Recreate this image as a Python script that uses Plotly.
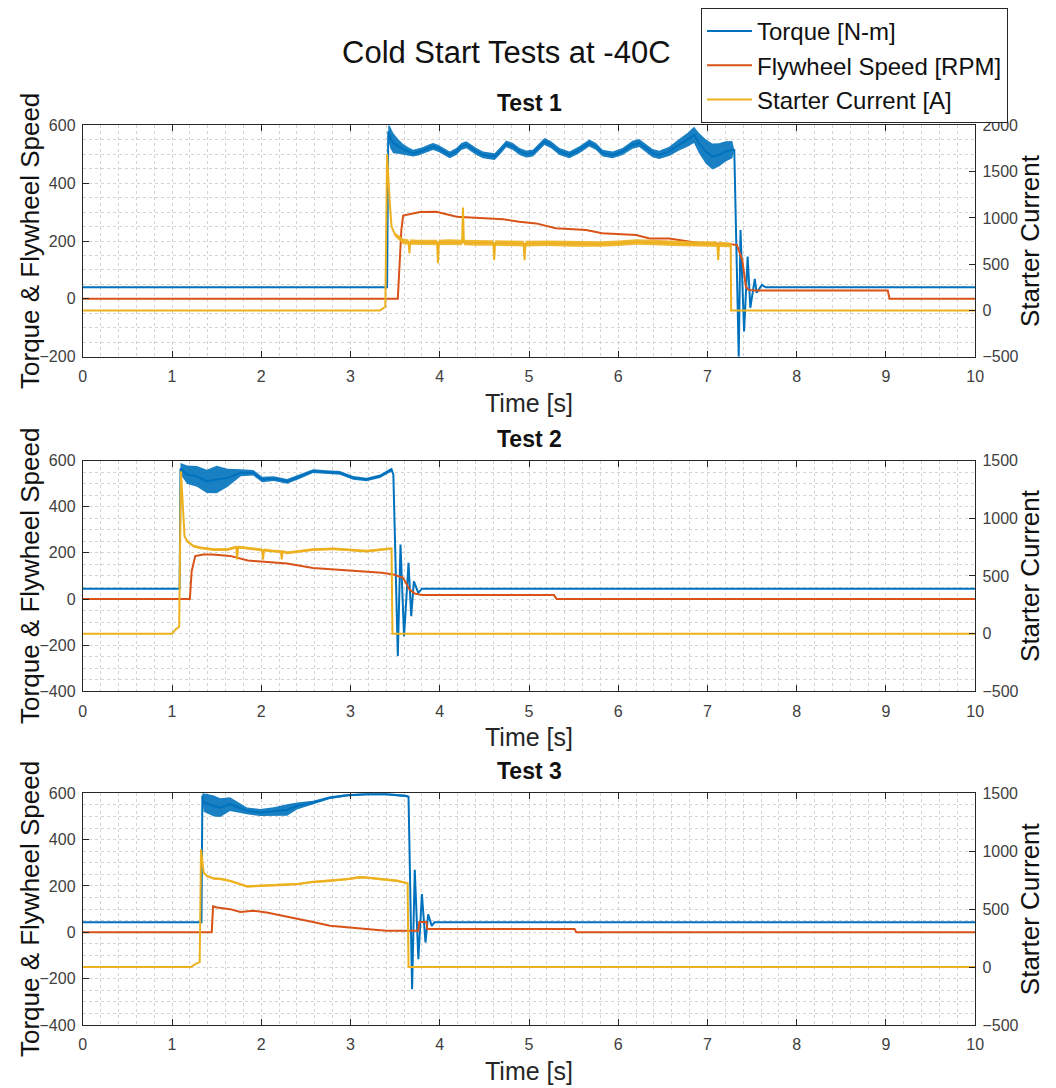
import plotly.graph_objects as go

# ---------------- Test 1 ----------------
t1_torque = [0, 3.41, 3.423, 3.449, 3.479, 3.535, 3.590, 3.646, 3.702, 3.758, 3.814, 3.870,
             3.925, 3.981, 4.037, 4.112, 4.186, 4.242, 4.298, 4.354, 4.410, 4.484, 4.559,
             4.615, 4.670, 4.745, 4.820, 4.894, 4.969, 5.043, 5.117, 5.173, 5.248, 5.341,
             5.453, 5.564, 5.676, 5.751, 5.825, 5.937, 6.048, 6.160, 6.235, 6.309, 6.384,
             6.458, 6.570, 6.682, 6.775, 6.849, 6.905, 6.980, 7.054, 7.129, 7.203, 7.278,
             7.30, 7.35, 7.37, 7.41, 7.45, 7.48, 7.53, 7.55, 7.61, 7.65, 10]
torque1 = [40, 40, 579, 556, 539, 527, 518, 510, 504, 508, 513, 521,
           527, 521, 510, 498, 510, 527, 533, 521, 510, 498, 495,
           492, 510, 536, 527, 510, 501, 504, 527, 544, 533, 510,
           498, 516, 539, 527, 504, 498, 510, 533, 539, 521, 504,
           498, 510, 533, 550, 567, 539, 510, 492, 498, 510, 516,
           515, -200, 238, -113, 146, -31, 69, 21, 48, 40, 40]
torque1_noise = [0, 0, 30, 38, 35, 25, 18, 14, 12, 12, 12, 12,
                 12, 12, 12, 12, 12, 12, 12, 12, 12, 12, 12,
                 12, 12, 12, 12, 12, 12, 12, 12, 12, 12, 12,
                 12, 12, 12, 12, 12, 12, 12, 14, 14, 14, 14,
                 14, 16, 20, 24, 28, 35, 42, 45, 40, 35, 30,
                 0, 0, 0, 0, 0, 0, 0, 0, 0, 0, 0]

t1_speed = [0, 3.53, 3.57, 3.59, 3.78, 3.96, 4.19, 4.34, 4.71, 4.89, 5.08, 5.30, 5.64, 5.82,
            6.05, 6.20, 6.35, 6.57, 6.79, 6.94, 7.24, 7.33, 7.39, 7.43, 7.46, 7.54, 9.02, 9.04, 10]
speed1 = [0, 0, 240, 288, 300, 301, 284, 282, 275, 267, 261, 244, 238, 227,
          224, 221, 209, 209, 198, 192, 190, 186, 134, 42, 31, 29, 29, 0, 0]

t1_current = [0, 3.33, 3.39, 3.41, 3.44, 3.46, 3.50, 3.55, 3.59, 3.65, 3.66, 3.67, 3.75, 3.85,
              3.97, 3.98, 3.99, 4.10, 4.25, 4.26, 4.27, 4.40, 4.60, 4.61, 4.62, 4.80, 4.94, 4.95,
              4.96, 5.20, 5.50, 5.80, 6.00, 6.20, 6.40, 6.60, 6.80, 7.00, 7.11, 7.12, 7.13, 7.26,
              7.265, 10]
current1 = [0, 0, 40, 1690, 1157, 906, 816, 779, 745, 740, 620, 740, 735, 738,
            735, 509, 735, 738, 735, 1113, 735, 730, 728, 545, 728, 725, 722, 545,
            722, 725, 718, 718, 725, 740, 735, 725, 718, 718, 715, 545, 715, 707,
            0, 0]
current1_noise = [0, 0, 0, 0, 0, 0, 20, 30, 30, 30, 30, 30, 30, 30,
                  30, 30, 30, 30, 30, 30, 30, 30, 30, 30, 30, 30, 30, 30,
                  30, 30, 30, 30, 30, 30, 30, 30, 30, 30, 30, 30, 30, 25,
                  0, 0]

# ---------------- Test 2 ----------------
t2_torque = [0, 1.085, 1.095, 1.17, 1.28, 1.39, 1.50, 1.62, 1.77, 1.91, 2.01, 2.14, 2.29, 2.44,
             2.58, 2.73, 2.88, 3.03, 3.18, 3.33, 3.46, 3.48, 3.53, 3.56, 3.60, 3.65, 3.68, 3.71,
             3.76, 3.80, 10]
torque2 = [45, 45, 565, 539, 532, 510, 518, 525, 547, 547, 518, 522, 510, 532,
           554, 550, 547, 525, 518, 532, 561, 540, -247, 236, -161, 157, -74, 77,
           27, 45, 45]
torque2_noise = [0, 0, 25, 40, 45, 50, 60, 40, 15, 12, 12, 10, 10, 10,
                 8, 8, 8, 8, 8, 8, 8, 0, 0, 0, 0, 0, 0, 0,
                 0, 0, 0]

t2_speed = [0, 1.20, 1.22, 1.26, 1.35, 1.45, 1.65, 1.85, 2.07, 2.29, 2.58, 2.96, 3.35, 3.48,
            3.59, 3.66, 3.72, 3.80, 5.28, 5.31, 10]
speed2 = [0, 0, 120, 186, 193, 193, 187, 167, 160, 154, 135, 125, 114, 106,
          92, 42, 24, 17, 17, 0, 0]

t2_current = [0, 1.00, 1.04, 1.08, 1.10, 1.125, 1.14, 1.17, 1.24, 1.32, 1.47, 1.62, 1.72, 1.73,
              1.74, 1.80, 1.91, 2.01, 2.02, 2.03, 2.14, 2.22, 2.23, 2.24, 2.29, 2.58, 2.81, 2.96,
              3.18, 3.46, 3.47, 10]
current2 = [0, 0, 37, 60, 1407, 1018, 845, 801, 758, 744, 729, 729, 750, 643,
            750, 745, 735, 725, 643, 725, 715, 712, 643, 712, 701, 729, 735, 729,
            715, 738, 0, 0]
current2_noise = [0, 0, 0, 0, 0, 0, 0, 10, 12, 12, 12, 12, 12, 12,
                  12, 12, 12, 12, 12, 12, 12, 12, 12, 12, 12, 12, 12, 12,
                  12, 10, 0, 0]

# ---------------- Test 3 ----------------
t3_torque = [0, 1.33, 1.34, 1.355, 1.47, 1.54, 1.65, 1.84, 1.99, 2.14, 2.29, 2.40, 2.58, 2.77,
             2.96, 3.18, 3.40, 3.63, 3.65, 3.69, 3.72, 3.76, 3.80, 3.84, 3.87, 3.91, 3.94, 10]
torque3 = [43, 43, 590, 560, 545, 538, 553, 524, 517, 522, 528, 545, 560, 581,
           591, 596, 596, 588, 585, -245, 270, -116, 165, -44, 78, 28, 43, 43]
torque3_noise = [0, 0, 20, 40, 45, 40, 30, 15, 15, 18, 25, 15, 8, 6,
                 5, 5, 5, 5, 0, 0, 0, 0, 0, 0, 0, 0, 0, 0]

t3_speed = [0, 1.445, 1.46, 1.505, 1.65, 1.765, 1.91, 2.06, 2.21, 2.40, 2.58, 2.77, 2.96, 3.18,
            3.40, 3.76, 3.77, 3.85, 3.86, 5.51, 5.53, 10]
speed3 = [0, 0, 112, 107, 100, 88, 93, 86, 74, 60, 45, 28, 21, 14,
          7, 7, 45, 45, 14, 14, 0, 0]

t3_current = [0, 1.21, 1.26, 1.31, 1.325, 1.34, 1.355, 1.39, 1.47, 1.55, 1.65, 1.84, 2.03, 2.21,
              2.40, 2.58, 2.77, 2.96, 3.10, 3.18, 3.33, 3.52, 3.64, 3.65, 10]
current3 = [0, 0, 26, 43, 1017, 900, 816, 787, 764, 760, 744, 696, 701, 707,
            716, 735, 744, 759, 775, 773, 760, 745, 724, 0, 0]
current3_noise = [0, 0, 0, 0, 0, 0, 8, 10, 10, 10, 10, 10, 10, 10,
                  10, 10, 10, 10, 12, 10, 10, 10, 8, 0, 0]

# ---------------- Axis settings ----------------
test_titles = ["Test 1", "Test 2", "Test 3"]
left_ranges = [[-200, 600], [-400, 600], [-400, 600]]
right_ranges = [[-500, 2000], [-500, 1500], [-500, 1500]]
series_names = ["Torque [N-m]", "Flywheel Speed [RPM]", "Starter Current [A]"]

BLUE, ORANGE, YELLOW = "#0072BD", "#D95319", "#EDB120"
AX = "#262626"
GRID = "#d4d4d4"
TICK_COLOR = "#404040"
FONT = "Liberation Sans, Arial, Helvetica, sans-serif"

W, H = 1056, 1088
# Where the page places the figure in the window: offset (px) and scale.
VIEW_X0, VIEW_SX = 3.0, 0.9905
VIEW_Y0, VIEW_SY = 8.0, 0.9853

X_LEFT, X_RIGHT = 82, 977                          # plot area, window px
PANELS = [(125.5, 357), (461, 692), (794, 1026)]   # top/bottom of each panel, window px


def px_x(s):
    """Window x position (px) -> paper fraction."""
    return min(1.0, max(0.0, (s - VIEW_X0) / VIEW_SX / W))


def px_y(s):
    """Window y position (px, from top) -> paper fraction."""
    return min(1.0, max(0.0, 1 - (s - VIEW_Y0) / VIEW_SY / H))


tests = [
    (t1_torque, torque1, torque1_noise, t1_speed, speed1, t1_current, current1, current1_noise),
    (t2_torque, torque2, torque2_noise, t2_speed, speed2, t2_current, current2, current2_noise),
    (t3_torque, torque3, torque3_noise, t3_speed, speed3, t3_current, current3, current3_noise),
]

fig = go.Figure()


def add_band(t, v, noise, color, xa, ya):
    """Filled envelope showing the high-frequency noise around a signal."""
    upper = [a + b for a, b in zip(v, noise)]
    lower = [a - b for a, b in zip(v, noise)]
    fig.add_trace(go.Scatter(
        x=list(t) + list(t)[::-1], y=upper + lower[::-1],
        xaxis=xa, yaxis=ya, mode="lines", fill="toself",
        fillcolor=color, line=dict(width=0, color=color),
        opacity=0.9, showlegend=False, hoverinfo="skip"))


for i, (tt, tq, tqn, ts, sp, tc, cu, cun) in enumerate(tests):
    xa = "x" if i == 0 else f"x{i + 1}"
    ya_left = "y" if i == 0 else f"y{2 * i + 1}"
    ya_right = f"y{2 * i + 2}"
    first = i == 0

    add_band(tt, tq, tqn, BLUE, xa, ya_left)
    fig.add_trace(go.Scatter(x=tt, y=tq, xaxis=xa, yaxis=ya_left, mode="lines",
                             line=dict(color=BLUE, width=2),
                             name=series_names[0], legendgroup="tq", showlegend=first))
    fig.add_trace(go.Scatter(x=ts, y=sp, xaxis=xa, yaxis=ya_left, mode="lines",
                             line=dict(color=ORANGE, width=2), name=series_names[1],
                             legendgroup="sp", showlegend=first))
    add_band(tc, cu, cun, YELLOW, xa, ya_right)
    fig.add_trace(go.Scatter(x=tc, y=cu, xaxis=xa, yaxis=ya_right, mode="lines",
                             line=dict(color=YELLOW, width=2), name=series_names[2],
                             legendgroup="cu", showlegend=first))

layout = dict(
    width=W, height=H,
    margin=dict(l=0, r=0, t=0, b=0),
    paper_bgcolor="white", plot_bgcolor="white",
    font=dict(family=FONT, color=AX),
    legend=dict(x=px_x(702), y=1.0, xanchor="left", yanchor="top",
                bgcolor="white", bordercolor=AX, borderwidth=1,
                font=dict(size=24, color="#111111", family=FONT),
                itemwidth=45, tracegroupgap=0, traceorder="normal"),
    showlegend=True,
)

annotations = [dict(text="Cold Start Tests at -40C", x=px_x(507), y=px_y(53),
                    xref="paper", yref="paper", showarrow=False,
                    font=dict(size=31, color="#111111"), xanchor="center", yanchor="middle")]

for i, (top, bot) in enumerate(PANELS):
    xkey = "xaxis" if i == 0 else f"xaxis{i + 1}"
    yl = "yaxis" if i == 0 else f"yaxis{2 * i + 1}"
    yr = f"yaxis{2 * i + 2}"
    xanchor = "y" if i == 0 else f"y{2 * i + 1}"
    xname = "x" if i == 0 else f"x{i + 1}"
    ylname = "y" if i == 0 else f"y{2 * i + 1}"
    dom = [px_y(bot), px_y(top)]

    layout[xkey] = dict(
        domain=[px_x(X_LEFT), px_x(X_RIGHT)], anchor=xanchor, range=[0, 10],
        dtick=1, tick0=0, ticks="inside", ticklen=6, tickcolor=AX,
        showline=True, linecolor=AX, linewidth=1, mirror="ticks",
        showgrid=True, gridcolor=GRID, griddash="dot", gridwidth=1,
        minor=dict(dtick=0.2, showgrid=True, gridcolor=GRID, griddash="dot", ticks=""),
        tickfont=dict(size=16, color=TICK_COLOR), zeroline=False, fixedrange=True,
        ticklabelstandoff=5,
    )
    layout[yl] = dict(
        domain=dom, anchor=xname, range=left_ranges[i], dtick=200, tick0=0,
        ticks="inside", ticklen=6, tickcolor=AX,
        showline=True, linecolor=AX, linewidth=1, mirror=False,
        showgrid=True, gridcolor=GRID, griddash="dot", gridwidth=1,
        minor=dict(dtick=50, showgrid=True, gridcolor=GRID, griddash="dot", ticks=""),
        tickfont=dict(size=16, color=TICK_COLOR), zeroline=False, fixedrange=True,
        ticklabelstandoff=3,
    )
    layout[yr] = dict(
        overlaying=ylname, anchor=xname, side="right", range=right_ranges[i],
        dtick=500, tick0=0, ticks="inside", ticklen=6, tickcolor=AX,
        showline=True, linecolor=AX, linewidth=1, showgrid=False, zeroline=False,
        tickfont=dict(size=16, color=TICK_COLOR), fixedrange=True,
        ticklabelstandoff=3,
    )

    mid = (top + bot) / 2
    annotations += [
        dict(text="<b>%s</b>" % test_titles[i], x=px_x((X_LEFT + X_RIGHT) / 2), y=px_y(top - 22),
             xref="paper", yref="paper", showarrow=False,
             font=dict(size=23, color="#111111"), xanchor="center", yanchor="middle"),
        dict(text="Time [s]", x=px_x((X_LEFT + X_RIGHT) / 2), y=px_y(bot + 46),
             xref="paper", yref="paper", showarrow=False,
             font=dict(size=25, color="#262626"), xanchor="center", yanchor="middle"),
        dict(text="Torque & Flywheel Speed", x=px_x(29), y=px_y(mid), textangle=-90,
             xref="paper", yref="paper", showarrow=False,
             font=dict(size=26, color="#111111"), xanchor="center", yanchor="middle"),
        dict(text="Starter Current", x=1.0, y=px_y(mid), textangle=-90,
             xref="paper", yref="paper", showarrow=False,
             font=dict(size=26, color="#111111"), xanchor="right", yanchor="middle"),
    ]

layout["annotations"] = annotations
fig.update_layout(**layout)

fig.write_html("out.html")
